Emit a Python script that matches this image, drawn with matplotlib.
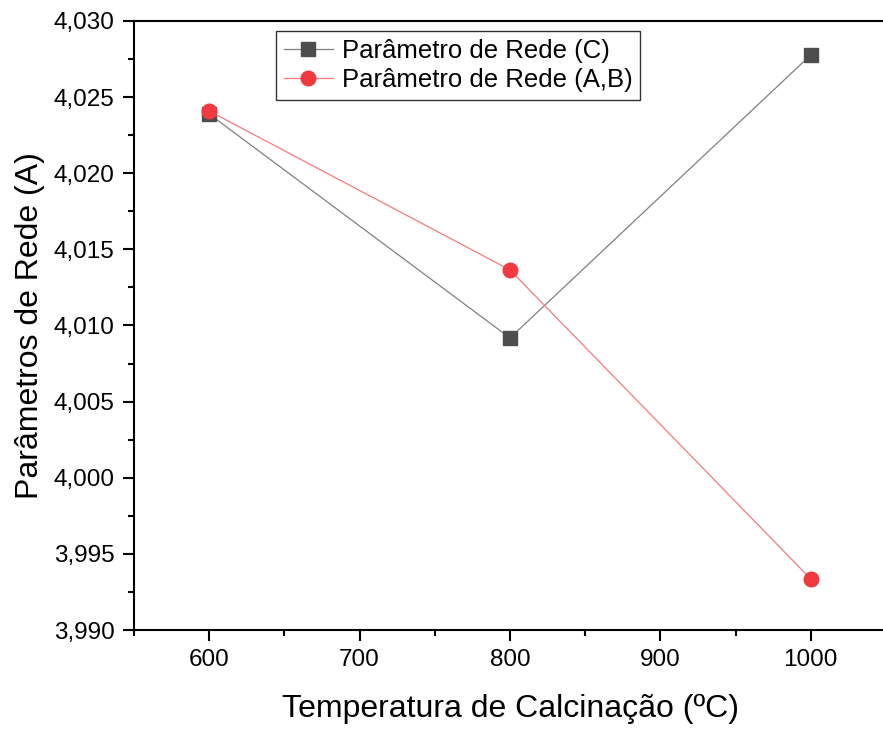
import matplotlib
matplotlib.use("Agg")
import matplotlib.pyplot as plt
from matplotlib.ticker import MultipleLocator, FuncFormatter

plt.rcParams['font.family'] = ['Liberation Sans', 'DejaVu Sans']

temperature = [600, 800, 1000]
param_c = [4.02389, 4.00918, 4.02777]
param_ab = [4.02409, 4.01365, 3.99335]
series_labels = ["Parâmetro de Rede (C)", "Parâmetro de Rede (A,B)"]

fig = plt.figure(figsize=(8.83, 7.29), dpi=100)
ax = fig.add_axes([134/883, (729-630)/729, (886-134)/883, (630-21)/729])

ax.plot(temperature, param_c, color='#808080', lw=0.9, marker='s', markersize=9.5,
        markerfacecolor='#4d4d4d', markeredgecolor='#4d4d4d', label=series_labels[0])
ax.plot(temperature, param_ab, color='#f47a7e', lw=0.9, marker='o', markersize=10.5,
        markerfacecolor='#f03a40', markeredgecolor='#f03a40', label=series_labels[1])

ax.set_xlim(550, 1050)
ax.set_ylim(3.990, 4.030)
ax.xaxis.set_major_locator(MultipleLocator(100))
ax.xaxis.set_minor_locator(MultipleLocator(50))
ax.yaxis.set_major_locator(MultipleLocator(0.005))
ax.yaxis.set_minor_locator(MultipleLocator(0.0025))
ax.yaxis.set_major_formatter(FuncFormatter(lambda v, p: f"{v:.3f}".replace('.', ',')))

ax.tick_params(which='major', direction='out', length=8, width=1.5, labelsize=17.5, pad=6)
ax.tick_params(which='minor', direction='out', length=4.5, width=1.5)
for s in ax.spines.values():
    s.set_linewidth(1.5)

ax.set_xlabel("Temperatura de Calcinação (ºC)", fontsize=23, labelpad=16)
ax.set_ylabel("Parâmetros de Rede (A)", fontsize=23, labelpad=6)

leg = ax.legend(loc='upper left', bbox_to_anchor=((276-134)/752, 1-(31-21)/609),
                fontsize=18.5, frameon=True, fancybox=False, edgecolor='black',
                borderpad=0.3, labelspacing=0.2, handlelength=1.9, handletextpad=0.35,
                borderaxespad=0)
leg.get_frame().set_linewidth(1.0)

fig.savefig("out.png", dpi=100)
